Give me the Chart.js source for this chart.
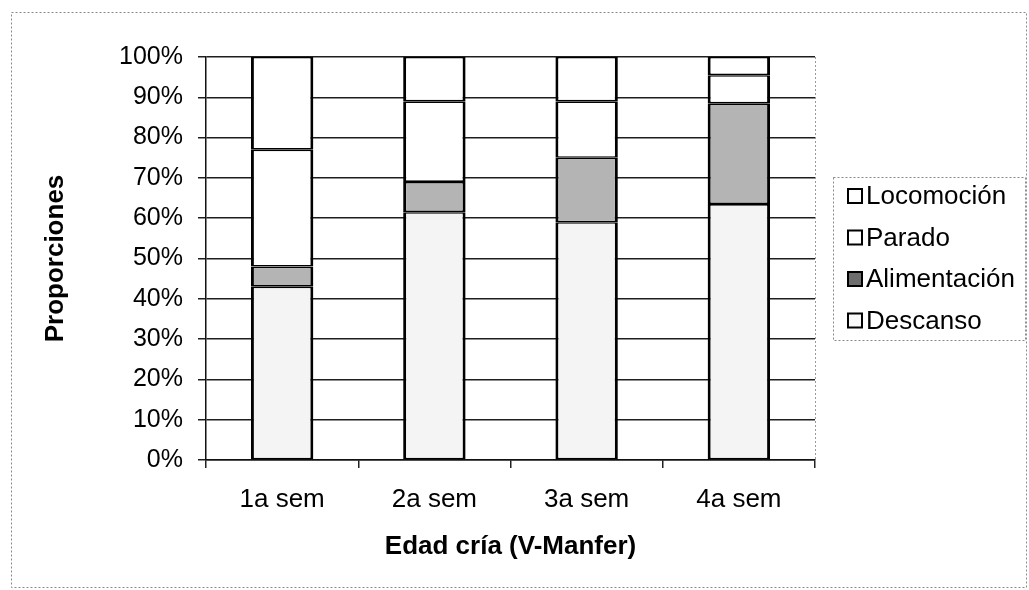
<!DOCTYPE html>
<html>
<head>
<meta charset="utf-8">
<script src="https://cdn.jsdelivr.net/npm/chart.js@4.4.1/dist/chart.umd.min.js"></script>
<style>
  html, body { margin: 0; padding: 0; background: #fff; }
  #wrap { width: 1029px; height: 590px; position: relative; }
</style>
</head>
<body>
<div id="wrap"><canvas id="proporcionesChart"></canvas></div>
<script>
// Datos (porcentajes, cada semana suma 100)
const semanas = ['1a sem', '2a sem', '3a sem', '4a sem'];
const descanso = [43, 61.5, 59, 63.5];
const alimentacion = [5, 7.5, 16, 25];
const parado = [29, 20, 14, 7];
const locomocion = [23, 11, 11, 4.5];
const yTicks = [0, 10, 20, 30, 40, 50, 60, 70, 80, 90, 100];

const FONT = "'Liberation Sans', Arial, sans-serif";

// Marco exterior y borde derecho punteado del area de trazado
const framePlugin = {
    id: 'framePlugin',
    beforeDraw: function(chart) {
        const ctx = chart.ctx;
        ctx.save();
        ctx.fillStyle = '#fff';
        ctx.fillRect(0, 0, chart.width, chart.height);
        ctx.strokeStyle = '#8a8a8a';
        ctx.lineWidth = 1;
        ctx.setLineDash([2, 2]);
        ctx.strokeRect(11.5, 12.5, 1015, 575);
        ctx.restore();
    },
    afterDatasetsDraw: function(chart) {
        const a = chart.chartArea;
        const ctx = chart.ctx;
        ctx.save();
        ctx.strokeStyle = '#999';
        ctx.lineWidth = 1;
        ctx.setLineDash([2, 2]);
        ctx.beginPath();
        ctx.moveTo(a.right + 0.5, a.top);
        ctx.lineTo(a.right + 0.5, a.bottom);
        ctx.stroke();
        ctx.restore();
    }
};

// Leyenda a la derecha con recuadro (orden inverso al apilado)
const legendBoxPlugin = {
    id: 'legendBoxPlugin',
    afterDraw: function(chart) {
        const ctx = chart.ctx;
        const sets = chart.data.datasets.slice().reverse();
        ctx.save();
        ctx.strokeStyle = '#8a8a8a';
        ctx.lineWidth = 1;
        ctx.setLineDash([2, 2]);
        ctx.strokeRect(833.5, 177.5, 192, 163);
        ctx.setLineDash([]);
        ctx.font = '26px ' + FONT;
        ctx.textBaseline = 'middle';
        sets.forEach(function(ds, i) {
            const y = 196 + i * 41.5;
            ctx.fillStyle = ds.legendColor;
            ctx.fillRect(848, y - 7, 14, 14);
            ctx.strokeStyle = '#000';
            ctx.lineWidth = 2;
            ctx.strokeRect(848, y - 7, 14, 14);
            ctx.fillStyle = '#000';
            ctx.fillText(ds.label, 866, y + 1);
        });
        ctx.restore();
    }
};

function initializeProporcionesChart() {
    const ctx = document.getElementById('proporcionesChart');
    if (!ctx) return;

    const common = {
        borderColor: '#000',
        borderWidth: { top: 1.6, bottom: 1.6, left: 3, right: 3 },
        borderSkipped: false,
        categoryPercentage: 1,
        barPercentage: 0.41
    };

    new Chart(ctx, {
        type: 'bar',
        data: {
            labels: semanas,
            datasets: [
                Object.assign({ label: 'Descanso', data: descanso, backgroundColor: '#f4f4f4', legendColor: '#fafafa' }, common),
                Object.assign({ label: 'Alimentación', data: alimentacion, backgroundColor: '#b4b4b4', legendColor: '#6e6e6e' }, common),
                Object.assign({ label: 'Parado', data: parado, backgroundColor: '#ffffff', legendColor: '#ffffff' }, common),
                Object.assign({ label: 'Locomoción', data: locomocion, backgroundColor: '#ffffff', legendColor: '#ffffff' }, common)
            ]
        },
        options: {
            responsive: true,
            maintainAspectRatio: false,
            animation: false,
            layout: {
                padding: { left: 40, right: 214, top: 57, bottom: 20 }
            },
            plugins: {
                legend: { display: false },
                tooltip: { enabled: false }
            },
            scales: {
                x: {
                    stacked: true,
                    grid: {
                        drawOnChartArea: false,
                        color: '#222',
                        lineWidth: 1.5,
                        tickLength: 8
                    },
                    border: { color: '#111', width: 1.5 },
                    ticks: {
                        color: '#000',
                        padding: 16,
                        font: { family: FONT, size: 26 }
                    },
                    title: {
                        display: true,
                        text: 'Edad cría (V-Manfer)',
                        color: '#000',
                        padding: { top: 0, bottom: 8 },
                        font: { family: FONT, size: 26, weight: 'bold' }
                    },
                    afterFit: function(scale) { scale.height = 110; }
                },
                y: {
                    stacked: true,
                    min: 0,
                    max: 100,
                    grid: {
                        color: '#1e1e1e',
                        lineWidth: 1.5,
                        tickLength: 8
                    },
                    border: { color: '#111', width: 1.5 },
                    afterBuildTicks: function(scale) {
                        scale.ticks = yTicks.map(function(v) { return { value: v }; });
                    },
                    ticks: {
                        color: '#000',
                        padding: 15,
                        font: { family: FONT, size: 25 },
                        callback: function(value) { return value + '%'; }
                    },
                    title: {
                        display: true,
                        text: 'Proporciones',
                        color: '#000',
                        padding: { top: 0, bottom: 0 },
                        font: { family: FONT, size: 26, weight: 'bold' }
                    },
                    afterFit: function(scale) { scale.width = 166; }
                }
            }
        },
        plugins: [framePlugin, legendBoxPlugin]
    });
}

document.addEventListener('DOMContentLoaded', function() {
    initializeProporcionesChart();
});
</script>
</body>
</html>
